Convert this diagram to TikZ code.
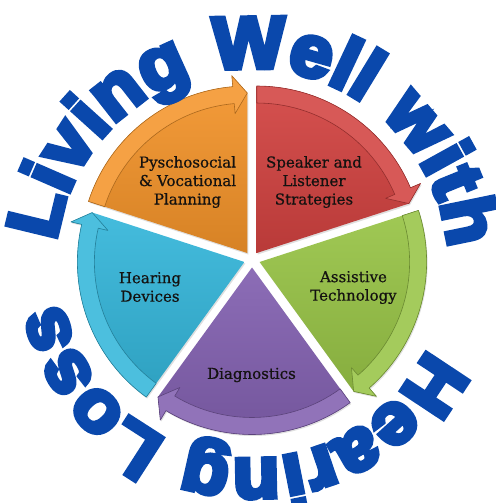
\documentclass[tikz,border=0pt]{standalone}
\usepackage{fontspec}
\usepackage{xcolor}
\definecolor{naranja}{RGB}{244,148,42}
\definecolor{rojo}{RGB}{210,66,64}
\definecolor{verdeLima}{RGB}{152,196,70}
\definecolor{morado}{RGB}{130,96,176}
\definecolor{celeste}{RGB}{52,182,218}
\definecolor{azulTexto}{RGB}{10,72,172}
\definecolor{casiNegro}{RGB}{20,18,16}
\newfontfamily\serifa[FakeBold=0.6]{DejaVu Serif}
\newfontfamily\rotulo[FakeBold=7, FakeStretch=1.05]{Liberation Sans Bold}
\usepackage{tikz}
\usetikzlibrary{calc,decorations.text,shadows}
\tikzstyle{sector}=[line width=0.4pt]
\tikzstyle{banda}=[line width=0.6pt, line join=round]
\tikzstyle{etiqueta}=[align=center, inner sep=0pt, text=casiNegro,
                      font=\serifa\fontsize{15}{18.5}\selectfont]
\tikzstyle{curva}=[decorate, decoration={text along path, text align=center}]

\begin{document}
\begin{tikzpicture}[x=1pt,y=1pt]
    \useasboundingbox (0,0) rectangle (495,503);
    \coordinate (c) at (252,243.5);
    \coordinate (ct) at (252,238);

    \foreach \a/\b/\m/\col in {162/90/126/naranja, 90/18/54/rojo,
    18/-54/-18/verdeLima, -54/-126/-90/morado, 234/162/198/celeste}
    {
        \begin{scope}[shift={($(c)+(\m:8)$)}]
            \shade [sector, top color=\col!92!white, bottom color=\col!88!black,
                    drop shadow={opacity=0.25, shadow xshift=1pt, shadow yshift=-1.5pt}]
                (0,0) -- (\a:167) arc [start angle=\a, end angle=\b+5, radius=167]
                -- (\b+5:178) -- (\b:160) -- cycle;
            \filldraw [banda, fill=\col!88!white, draw=\col!70!black]
                (\a:167) arc [start angle=\a, end angle=\b+5, radius=167]
                -- (\b+5:178) -- (\b:160) -- (\b+5:140) -- (\b+5:150)
                arc [start angle=\b+5, end angle=\a, radius=150] -- cycle;
        \end{scope}
    }

    \draw (187.5,321) node (psico) [etiqueta] {Pyschosocial\\\& Vocational\\Planning};
    \draw (314,321) node (orador) [etiqueta] {Speaker and\\Listener\\Strategies};
    \draw (353.5,215.5) node (asistiva) [etiqueta] {Assistive\\Technology};
    \draw (251.5,128) node (diagnostico) [etiqueta] {Diagnostics};
    \draw (150,216) node (audifonos) [etiqueta] {Hearing\\Devices};

    \path [curva, decoration={text={|\rotulo\fontsize{73}{73}\selectfont\color{azulTexto}|Living Well with}}]
        (ct) ++(186:197) arc [start angle=186, end angle=-8, radius=197];
    \path [curva, decoration={text={|\rotulo\fontsize{73}{73}\selectfont\color{azulTexto}|Hearing Loss}}]
        (ct) ++(-2:194) arc [start angle=-2, end angle=-192, radius=194];
\end{tikzpicture}
\end{document}
